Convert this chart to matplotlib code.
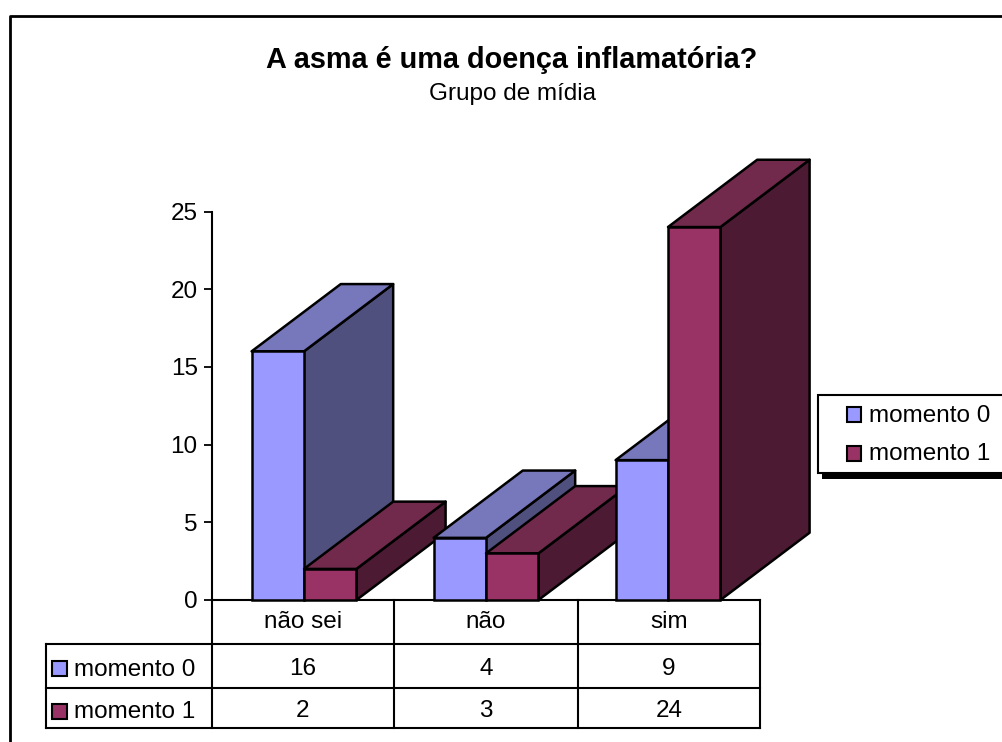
import matplotlib
matplotlib.use("Agg")
import matplotlib.pyplot as plt
from matplotlib.patches import Polygon, Rectangle

plt.rcParams["font.family"] = ["Liberation Sans", "DejaVu Sans"]

categories = ["não sei", "não", "sim"]
series_names = ["momento 0", "momento 1"]
momento_0 = [16, 4, 9]
momento_1 = [2, 3, 24]
yticks = [0, 5, 10, 15, 20, 25]

FRONT = ["#9999ff", "#993366"]
TOP = ["#7777bb", "#722a4c"]
SIDE = ["#50507f", "#4c1a33"]
INK = "#000000"
W, H = 1002, 742
TEXT_SIZE = 17.5
EDGE = 1.8


def box(ax, x0, width, value, front, top, side, depth_x, depth_y):
    """Draw one oblique 3-D column: side and top faces, then the front."""
    x1 = x0 + width
    kw = dict(edgecolor=INK, linewidth=EDGE, joinstyle="round", clip_on=False)
    ax.add_patch(Polygon([(x1, 0), (x1 + depth_x, depth_y),
                          (x1 + depth_x, value + depth_y), (x1, value)],
                         facecolor=side, **kw))
    ax.add_patch(Polygon([(x0, value), (x1, value),
                          (x1 + depth_x, value + depth_y),
                          (x0 + depth_x, value + depth_y)],
                         facecolor=top, **kw))
    ax.bar(x0, value, width=width, align="edge", color=front,
           edgecolor=INK, linewidth=EDGE, clip_on=False)


fig = plt.figure(figsize=(W / 100, H / 100), dpi=100, facecolor="white")

# Overlay in pixel units for the chart frame and the data table rules
page = fig.add_axes([0, 0, 1, 1])
page.set_xlim(0, W)
page.set_ylim(H, 0)
page.axis("off")
page.plot([10.5, 10.5, W + 2], [H + 2, 15.5, 15.5], color=INK, lw=2,
          clip_on=True)

# Plot area: 182 px per category, y in data values
L, R, T, B = 212, 761, 211.5, 600
ax = fig.add_axes([L / W, 1 - B / H, (R - L) / W, (B - T) / H])
x_start = -1 / 182
ax.set_xlim(x_start, x_start + (R - L) / 182)
ax.set_ylim(0, 25)
ax.patch.set_alpha(0)
for s in ("top", "right", "bottom"):
    ax.spines[s].set_visible(False)
ax.spines["left"].set_linewidth(1.5)
ax.set_xticks([])
ax.set_yticks(yticks)
ax.tick_params(axis="y", length=5.8, width=1.3, labelsize=TEXT_SIZE, pad=4.5)

BAR_W = 0.288
DEPTH_X = 0.49
DEPTH_Y = 4.33
for i in range(len(categories)):
    c = i + 0.5
    box(ax, c - BAR_W, BAR_W, momento_0[i], FRONT[0], TOP[0], SIDE[0], DEPTH_X, DEPTH_Y)
    box(ax, c, BAR_W, momento_1[i], FRONT[1], TOP[1], SIDE[1], DEPTH_X, DEPTH_Y)

# Data table below the plot
col_x = [212, 394, 578, 760]
TABLE_L = 46
TABLE_B = 728
line = dict(color=INK, lw=1.5, solid_capstyle="projecting")
page.plot([212, col_x[-1]], [600, 600], **line)
for y in (644, 688, TABLE_B):
    page.plot([TABLE_L, col_x[-1]], [y, y], **line)
page.plot([TABLE_L, TABLE_L], [644, TABLE_B], **line)
for x in col_x:
    page.plot([x, x], [600, TABLE_B], **line)

cell = dict(ha="center", va="center", fontsize=TEXT_SIZE, color=INK)
for i, name in enumerate(categories):
    cx = (col_x[i] + col_x[i + 1]) / 2
    page.text(cx, 622, name, **cell)
    page.text(cx, 669, str(momento_0[i]), **cell)
    page.text(cx, 711, str(momento_1[i]), **cell)

for y, name, colour in zip((668.5, 711), series_names, FRONT):
    page.add_patch(Rectangle((52.5, y - 7.5), 15, 15, facecolor=colour, edgecolor=INK, lw=1.5))
    page.text(74, y + 1, name, ha="left", va="center", fontsize=TEXT_SIZE, color=INK)

# Titles
page.text(512, 60, "A asma é uma doença inflamatória?", ha="center", va="center",
          fontsize=20.8, fontweight="bold", color=INK)
page.text(513, 94, "Grupo de mídia", ha="center", va="center", fontsize=TEXT_SIZE, color=INK)

# Legend box with a hard drop shadow, running off the right edge
page.add_patch(Rectangle((822, 398), 190, 81, facecolor=INK, edgecolor="none"))
page.add_patch(Rectangle((818.5, 394.5), 190, 78, facecolor="white", edgecolor=INK, lw=1.5))
for y, name, colour in zip((414.5, 453), series_names, FRONT):
    page.add_patch(Rectangle((847, y - 7.5), 14.5, 15, facecolor=colour, edgecolor=INK, lw=1.5))
    page.text(869, y + 1, name, ha="left", va="center", fontsize=TEXT_SIZE, color=INK)

page.set_zorder(0)
ax.set_zorder(1)
fig.savefig("out.png", dpi=100, facecolor="white")
